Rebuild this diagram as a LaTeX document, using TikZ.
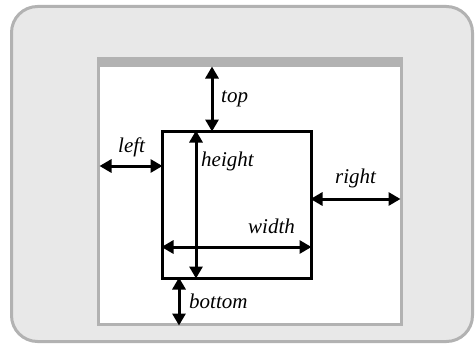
\documentclass[tikz,border=0pt]{standalone}
\usepackage{fontspec}
\setmainfont{Liberation Serif}
\usetikzlibrary{arrows.meta}
\begin{document}
\begin{tikzpicture}[x=1pt,y=-1pt,
  dim/.style={line width=3pt,{Triangle[width=13pt,length=12pt]}-{Triangle[width=13pt,length=12pt]},shorten <=-0.5pt,shorten >=-0.5pt},
  lbl/.style={anchor=base west,inner sep=0pt,font=\fontsize{21}{23}\selectfont\itshape}]
\useasboundingbox (0,0) rectangle (476,345);
% outer panel
\draw[line width=3pt,draw=black!30,fill=black!9,rounded corners=26pt] (11.5,6.5) rectangle (472.5,341.5);
% inner page
\fill[black!30] (97,57) rectangle (403,326);
\fill[white] (100,67) rectangle (400,323);
% box
\draw[line width=3pt] (162,131) rectangle (311,278);
% coordinates
\coordinate (tA) at (212,67);  \coordinate (tB) at (212,131);
\coordinate (lA) at (100,166); \coordinate (lB) at (162,166);
\coordinate (hA) at (196,131); \coordinate (hB) at (196,278);
\coordinate (wA) at (162,247); \coordinate (wB) at (311,247);
\coordinate (rA) at (311,199); \coordinate (rB) at (400,199);
\coordinate (bA) at (179,278); \coordinate (bB) at (179,325);
\draw[dim] (tA) -- (tB);
\draw[dim] (lA) -- (lB);
\draw[dim] (hA) -- (hB);
\draw[dim] (wA) -- (wB);
\draw[dim] (rA) -- (rB);
\draw[dim] (bA) -- (bB);
\node[lbl] (ttop) at (221,102) {top};
\node[lbl] (tleft) at (118,152) {left};
\node[lbl] (theight) at (201,166) {height};
\node[lbl] (twidth) at (248,233) {width};
\node[lbl] (tright) at (335,183) {right};
\node[lbl] (tbottom) at (189,308) {bottom};
\end{tikzpicture}
\end{document}
